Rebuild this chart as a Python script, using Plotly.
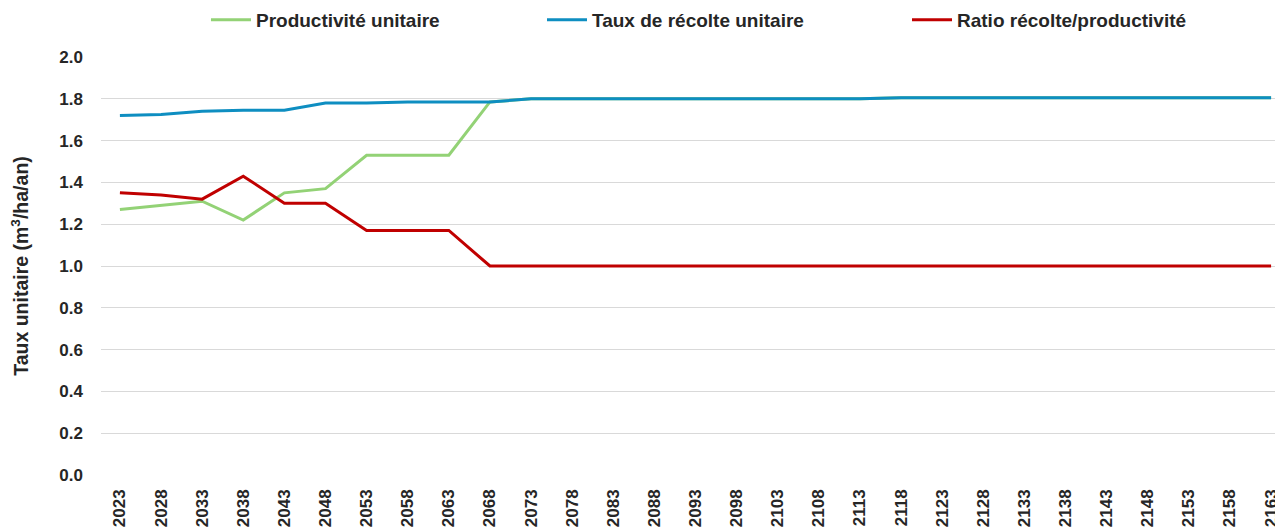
import plotly.graph_objects as go

years = [str(y) for y in range(2023, 2164, 5)]

productivite = [1.27, 1.29, 1.31, 1.22, 1.35, 1.37, 1.53, 1.53, 1.53, 1.785,
                1.80, 1.80, 1.80, 1.80, 1.80, 1.80, 1.80, 1.80, 1.80,
                1.805, 1.805, 1.805, 1.805, 1.805, 1.805, 1.805, 1.805, 1.805, 1.805]
recolte = [1.72, 1.725, 1.74, 1.745, 1.745, 1.78, 1.78, 1.785, 1.785, 1.785,
           1.80, 1.80, 1.80, 1.80, 1.80, 1.80, 1.80, 1.80, 1.80,
           1.805, 1.805, 1.805, 1.805, 1.805, 1.805, 1.805, 1.805, 1.805, 1.805]
ratio = [1.35, 1.34, 1.32, 1.43, 1.30, 1.30, 1.17, 1.17, 1.17, 1.00,
         1.00, 1.00, 1.00, 1.00, 1.00, 1.00, 1.00, 1.00, 1.00,
         1.00, 1.00, 1.00, 1.00, 1.00, 1.00, 1.00, 1.00, 1.00, 1.00]

names = ["Productivité unitaire", "Taux de récolte unitaire", "Ratio récolte/productivité"]
colors = ["#93D276", "#0E8EC1", "#C00000"]
series = [productivite, recolte, ratio]
legend_ids = [None, "legend2", "legend3"]

FONT = "Liberation Sans Narrow, Arial Narrow, Liberation Sans, Arial, sans-serif"
TXT = "#262626"

fig = go.Figure()
for name, col, vals, lg in zip(names, colors, series, legend_ids):
    kw = {} if lg is None else {"legend": lg}
    fig.add_trace(go.Scatter(x=years, y=vals, mode="lines", name=name,
                             line=dict(color=col, width=3), **kw))

leg_common = dict(orientation="h", yanchor="middle", xanchor="left",
                  bgcolor="rgba(0,0,0,0)", borderwidth=0, itemwidth=40,
                  font=dict(family=FONT, size=19, color=TXT, weight="bold"))

LEG_Y = 1.0885
fig.update_layout(
    width=1275, height=523,
    margin=dict(l=93, r=0, t=49, b=56, autoexpand=False),
    paper_bgcolor="white", plot_bgcolor="white",
    font=dict(family=FONT, color=TXT),
    showlegend=True,
    legend=dict(x=0.0888, y=LEG_Y, **leg_common),
    legend2=dict(x=0.3731, y=LEG_Y, **leg_common),
    legend3=dict(x=0.6819, y=LEG_Y, **leg_common),
    xaxis=dict(type="category", range=[-0.46, 28.29], showgrid=False,
               tickangle=-90, ticklabelstandoff=10, automargin=False,
               tickfont=dict(family=FONT, size=17, color=TXT, weight="bold"),
               showline=False, zeroline=False, ticks=""),
    yaxis=dict(range=[0, 2.0], dtick=0.2, tickformat=".1f",
               showgrid=True, gridcolor="#D9D9D9", gridwidth=1,
               zeroline=False, showline=False, ticks="", automargin=False,
               ticklabelstandoff=17,
               tickfont=dict(family=FONT, size=17, color=TXT, weight="bold"),
               title=dict(text="\u00a0\u00a0\u00a0\u00a0\u00a0Taux unitaire (m<sup>3</sup>/ha/an)",
                          standoff=32,
                          font=dict(family=FONT, size=19.5, color=TXT, weight="bold"))),
)

fig.write_html("out.html")
